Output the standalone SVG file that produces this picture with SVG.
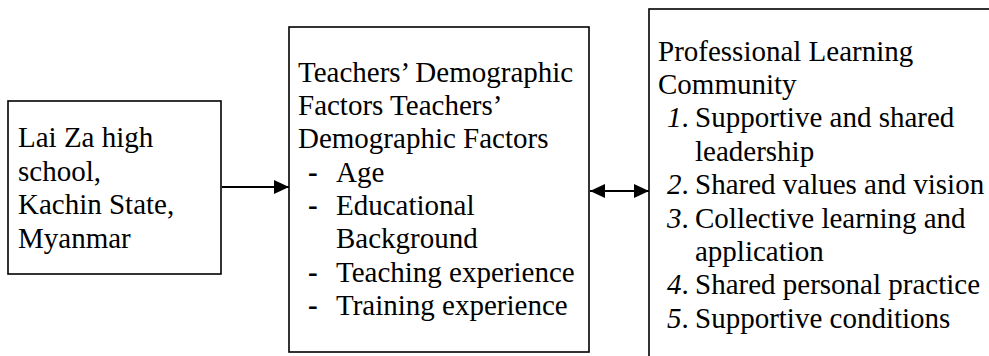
<svg xmlns="http://www.w3.org/2000/svg" width="989" height="356" viewBox="0 0 989 356">
<style>
.box{fill:#fff;stroke:#000;stroke-width:1.6}
.t{font-family:"Liberation Serif","Times New Roman",serif;font-size:29px;fill:#000}
.num{font-style:italic}
.dash{font-weight:bold}
.conn{stroke:#000;stroke-width:2;fill:none}
</style>
<defs>
<marker id="ah" markerUnits="userSpaceOnUse" markerWidth="16" markerHeight="16" viewBox="0 0 16 16" refX="15" refY="8" orient="auto-start-reverse">
<path d="M0,1 L15,8 L0,15 Z" fill="#000"/>
</marker>
</defs>
<rect width="989" height="356" fill="#fff"/>
<g id="node-location">
<rect class="box" x="8" y="101" width="213" height="173"/>
<text class="t" x="18" y="147">Lai Za high</text>
<text class="t" x="18" y="181">school,</text>
<text class="t" x="18" y="214">Kachin State,</text>
<text class="t" x="18" y="248">Myanmar</text>
</g>
<g id="node-demographic">
<rect class="box" x="289" y="27" width="300" height="325"/>
<text class="t" x="298" y="82">Teachers’ Demographic</text>
<text class="t" x="298" y="115">Factors Teachers’</text>
<text class="t" x="298" y="148">Demographic Factors</text>
<text class="t dash" x="308" y="182">-</text>
<text class="t" x="336" y="182">Age</text>
<text class="t dash" x="308" y="215">-</text>
<text class="t" x="336" y="215">Educational</text>
<text class="t" x="336" y="248">Background</text>
<text class="t dash" x="308" y="282">-</text>
<text class="t" x="336" y="282">Teaching experience</text>
<text class="t dash" x="308" y="315">-</text>
<text class="t" x="336" y="315">Training experience</text>
</g>
<g id="node-plc">
<rect class="box" x="649" y="9" width="400" height="400"/>
<text class="t" x="658" y="61">Professional Learning</text>
<text class="t" x="658" y="94">Community</text>
<text class="t" x="667" y="127"><tspan class="num">1</tspan>.</text>
<text class="t" x="695" y="127">Supportive and shared</text>
<text class="t" x="695" y="161">leadership</text>
<text class="t" x="667" y="194"><tspan class="num">2</tspan>.</text>
<text class="t" x="695" y="194">Shared values and vision</text>
<text class="t" x="667" y="228"><tspan class="num">3</tspan>.</text>
<text class="t" x="695" y="228">Collective learning and</text>
<text class="t" x="695" y="261">application</text>
<text class="t" x="667" y="294"><tspan class="num">4</tspan>.</text>
<text class="t" x="695" y="294">Shared personal practice</text>
<text class="t" x="667" y="328"><tspan class="num">5</tspan>.</text>
<text class="t" x="695" y="328">Supportive conditions</text>
</g>
<g id="connectors">
<line class="conn" x1="222" y1="187" x2="289" y2="187" marker-end="url(#ah)"/>
<line class="conn" x1="590" y1="191" x2="649" y2="191" marker-start="url(#ah)" marker-end="url(#ah)"/>
</g>
</svg>
